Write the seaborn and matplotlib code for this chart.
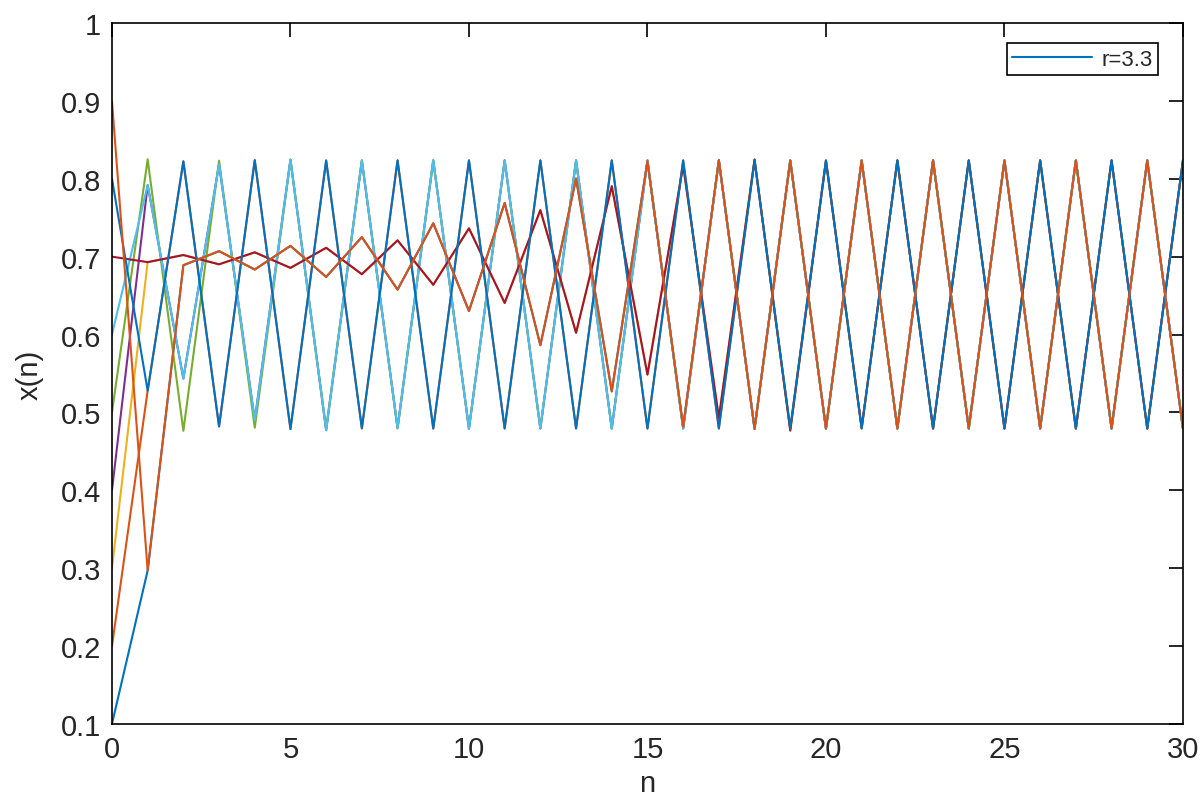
"""
Logistic map iterates x(n) for r=3.3, one line per starting value.
"""
import matplotlib
matplotlib.use("Agg")
import matplotlib.pyplot as plt
import seaborn as sns
import pandas as pd

# step index
n = list(range(31))

# iterates, one list per starting value x(0)
x_01 = [0.1, 0.297, 0.6890, 0.7071, 0.6835, 0.7139, 0.6740, 0.7251, 0.6577, 0.7429,
        0.6303, 0.7690, 0.5863, 0.8004, 0.5271, 0.8226, 0.4816, 0.8239, 0.4788, 0.8235,
        0.4793, 0.8236, 0.4794, 0.8236, 0.4794, 0.8236, 0.4794, 0.8236, 0.4794, 0.8236, 0.4794]
x_02 = [0.2, 0.528, 0.8224, 0.4820, 0.8239, 0.4787, 0.8235, 0.4796, 0.8236, 0.4794,
        0.8236, 0.4794, 0.8236, 0.4794, 0.8236, 0.4794, 0.8236, 0.4794, 0.8236, 0.4794,
        0.8236, 0.4794, 0.8236, 0.4794, 0.8236, 0.4794, 0.8236, 0.4794, 0.8236, 0.4794, 0.8236]
x_03 = [0.3, 0.693, 0.7021, 0.6902, 0.7056, 0.6856, 0.7114, 0.6775, 0.7210, 0.6639,
        0.7364, 0.6406, 0.7598, 0.6023, 0.7905, 0.5486, 0.8172, 0.4929, 0.8248, 0.4768,
        0.8232, 0.4802, 0.8237, 0.4793, 0.8236, 0.4794, 0.8236, 0.4794, 0.8236, 0.4794, 0.8236]
x_04 = [0.4, 0.792, 0.5436, 0.8187, 0.4898, 0.8247, 0.4772, 0.8233, 0.4801, 0.8237,
        0.4792, 0.8236, 0.4794, 0.8236, 0.4794, 0.8236, 0.4794, 0.8236, 0.4794, 0.8236,
        0.4794, 0.8236, 0.4794, 0.8236, 0.4794, 0.8236, 0.4794, 0.8236, 0.4794, 0.8236, 0.4794]
x_05 = [0.5, 0.825, 0.4764, 0.8232, 0.4804, 0.8237, 0.4792, 0.8236, 0.4794, 0.8236,
        0.4794, 0.8236, 0.4794, 0.8236, 0.4794, 0.8236, 0.4794, 0.8236, 0.4794, 0.8236,
        0.4794, 0.8236, 0.4794, 0.8236, 0.4794, 0.8236, 0.4794, 0.8236, 0.4794, 0.8236, 0.4794]
x_06 = [0.6, 0.792, 0.5436, 0.8187, 0.4898, 0.8247, 0.4772, 0.8233, 0.4801, 0.8237,
        0.4792, 0.8236, 0.4794, 0.8236, 0.4794, 0.8236, 0.4794, 0.8236, 0.4794, 0.8236,
        0.4794, 0.8236, 0.4794, 0.8236, 0.4794, 0.8236, 0.4794, 0.8236, 0.4794, 0.8236, 0.4794]
x_07 = [0.7, 0.693, 0.7021, 0.6902, 0.7056, 0.6856, 0.7114, 0.6775, 0.7210, 0.6639,
        0.7364, 0.6406, 0.7598, 0.6023, 0.7905, 0.5486, 0.8172, 0.4929, 0.8248, 0.4768,
        0.8232, 0.4802, 0.8237, 0.4793, 0.8236, 0.4794, 0.8236, 0.4794, 0.8236, 0.4794, 0.8236]
x_08 = [0.8, 0.528, 0.8224, 0.4820, 0.8239, 0.4787, 0.8235, 0.4796, 0.8236, 0.4794,
        0.8236, 0.4794, 0.8236, 0.4794, 0.8236, 0.4794, 0.8236, 0.4794, 0.8236, 0.4794,
        0.8236, 0.4794, 0.8236, 0.4794, 0.8236, 0.4794, 0.8236, 0.4794, 0.8236, 0.4794, 0.8236]
x_09 = [0.9, 0.297, 0.6890, 0.7071, 0.6835, 0.7139, 0.6740, 0.7251, 0.6577, 0.7429,
        0.6303, 0.7690, 0.5863, 0.8004, 0.5271, 0.8226, 0.4816, 0.8239, 0.4788, 0.8235,
        0.4793, 0.8236, 0.4794, 0.8236, 0.4794, 0.8236, 0.4794, 0.8236, 0.4794, 0.8236, 0.4794]

series = [x_01, x_02, x_03, x_04, x_05, x_06, x_07, x_08, x_09]

x_ticks = [0, 5, 10, 15, 20, 25, 30]
y_ticks = [0.1, 0.2, 0.3, 0.4, 0.5, 0.6, 0.7, 0.8, 0.9, 1.0]
y_tick_labels = ["0.1", "0.2", "0.3", "0.4", "0.5", "0.6", "0.7", "0.8", "0.9", "1"]

# MATLAB default line colour order
colors = ["#0072BD", "#D95319", "#EDB120", "#7E2F8E", "#77AC30",
          "#4DBEEE", "#A2142F", "#0072BD", "#D95319"]

sns.set_style("white")
plt.rcParams["font.family"] = ["Liberation Sans", "DejaVu Sans"]
plt.rcParams["xtick.direction"] = "in"
plt.rcParams["ytick.direction"] = "in"

fig = plt.figure(figsize=(12, 8.04), dpi=100)
ax = fig.add_axes([0.0933, 0.0983, 0.8925, 0.8718])

for i, (vals, col) in enumerate(zip(series, colors)):
    df = pd.DataFrame({"n": n, "x": vals})
    sns.lineplot(data=df, x="n", y="x", color=col, linewidth=1.5, ax=ax,
                 label="r=3.3" if i == 0 else None, legend=False)

ax.set_xlim(0, 30)
ax.set_ylim(0.1, 1.0)
ax.set_xticks(x_ticks)
ax.set_xticklabels([str(t) for t in x_ticks])
ax.set_yticks(y_ticks)
ax.set_yticklabels(y_tick_labels)
ax.tick_params(axis="both", which="both", top=True, right=True, length=10,
               width=1.2, labelsize=21, color="black", pad=8)
for spine in ax.spines.values():
    spine.set_color("black")
    spine.set_linewidth(1.2)

ax.set_xlabel("n", fontsize=21, labelpad=4)
ax.set_ylabel("x(n)", fontsize=21, labelpad=12)

handles, labels = ax.get_legend_handles_labels()
leg = ax.legend(handles[:1], labels[:1], loc="upper right",
                bbox_to_anchor=(0.9767, 0.9715), borderaxespad=0,
                fontsize=16, handlelength=3.6, handletextpad=0.4,
                borderpad=0.25, fancybox=False,
                framealpha=1, edgecolor="black")
leg.get_frame().set_linewidth(1.2)

fig.savefig("out.png", dpi=100)
